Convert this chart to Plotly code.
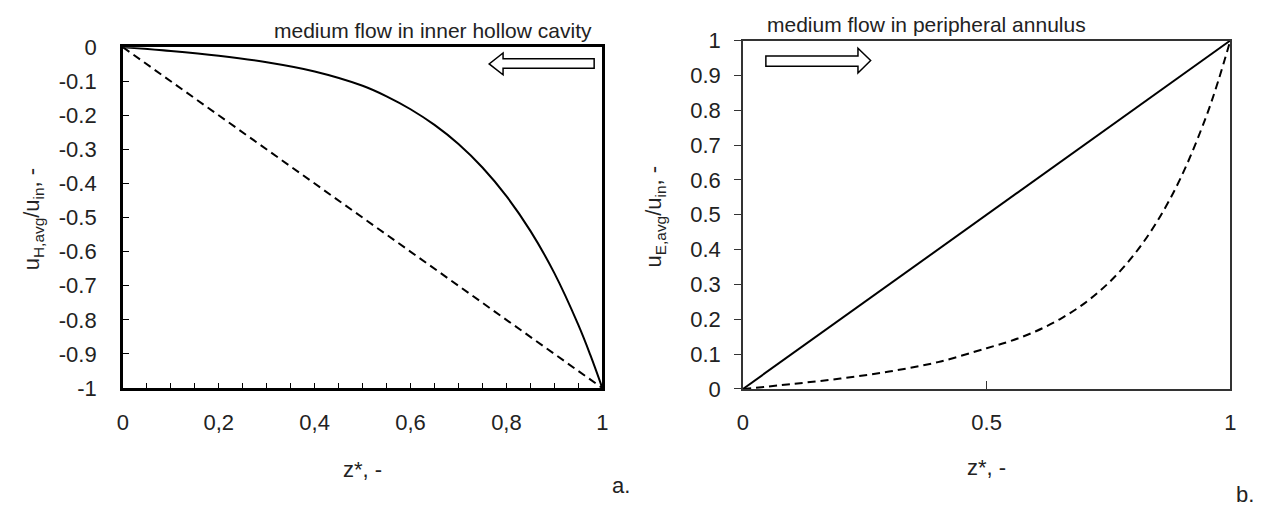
import plotly.graph_objects as go

# ---- data ----
z_a_solid = [0, 0.1, 0.2, 0.3, 0.4, 0.5, 0.55, 0.6, 0.65, 0.7, 0.75, 0.8, 0.85, 0.9, 0.95, 0.975, 1.0]
u_a_solid = [0, -0.011, -0.025, -0.044, -0.071, -0.113, -0.144, -0.182, -0.228, -0.284, -0.353,
             -0.437, -0.539, -0.663, -0.815, -0.903, -1.0]
z_a_dash = [0, 1]
u_a_dash = [0, -1]

z_b_solid = [0, 1]
u_b_solid = [0, 1]
z_b_dash = [0, 0.1, 0.2, 0.3, 0.4, 0.5, 0.55, 0.6, 0.65, 0.7, 0.75, 0.8, 0.85, 0.9, 0.95, 0.975, 1.0]
u_b_dash = [0, 0.014, 0.03, 0.05, 0.077, 0.117, 0.138, 0.165, 0.2, 0.245, 0.304, 0.381, 0.481,
            0.611, 0.78, 0.883, 1.0]

a_xticks = [0, 0.2, 0.4, 0.6, 0.8, 1]
a_xtext = ["0", "0,2", "0,4", "0,6", "0,8", "1"]
a_yticks = [0, -0.1, -0.2, -0.3, -0.4, -0.5, -0.6, -0.7, -0.8, -0.9, -1]
a_ytext = ["0", "-0.1", "-0.2", "-0.3", "-0.4", "-0.5", "-0.6", "-0.7", "-0.8", "-0.9", "-1"]
b_xticks = [0, 0.5, 1]
b_xtext = ["0", "0.5", "1"]
b_yticks = [0, 0.1, 0.2, 0.3, 0.4, 0.5, 0.6, 0.7, 0.8, 0.9, 1]
b_ytext = ["0", "0.1", "0.2", "0.3", "0.4", "0.5", "0.6", "0.7", "0.8", "0.9", "1"]

W, H = 1268, 520
FONT = "Arial, Liberation Sans, sans-serif"
TXT = "#222222"

def px(x):
    return x / W

def py(y):
    return 1 - y / H

fig = go.Figure()
line_solid = dict(color="black", width=2)
line_dash = dict(color="black", width=2, dash="8px,5px")

fig.add_trace(go.Scatter(x=z_a_solid, y=u_a_solid, mode="lines", line=line_solid,
                         line_shape="spline", xaxis="x", yaxis="y", showlegend=False))
fig.add_trace(go.Scatter(x=z_a_dash, y=u_a_dash, mode="lines", line=line_dash,
                         xaxis="x", yaxis="y", showlegend=False))
fig.add_trace(go.Scatter(x=z_b_solid, y=u_b_solid, mode="lines", line=line_solid,
                         xaxis="x2", yaxis="y2", showlegend=False))
fig.add_trace(go.Scatter(x=z_b_dash, y=u_b_dash, mode="lines", line=line_dash,
                         line_shape="spline", xaxis="x2", yaxis="y2", showlegend=False))

tickfont = dict(family=FONT, size=22, color=TXT)

fig.update_layout(
    width=W, height=H,
    margin=dict(l=0, r=0, t=0, b=0),
    paper_bgcolor="white", plot_bgcolor="white",
    font=dict(family=FONT, size=22, color=TXT),
    xaxis=dict(domain=[px(118), px(602)], range=[0, 1], anchor="y",
               showline=True, mirror=True, linecolor="black", linewidth=2.5,
               showgrid=False, zeroline=False,
               tickmode="array", tickvals=a_xticks, ticktext=a_xtext,
               ticks="inside", ticklen=5, tickwidth=1.2, tickcolor="black",
               minor=dict(dtick=0.05, ticks="inside", ticklen=5, tickwidth=1.2, tickcolor="black"),
               tickfont=tickfont, ticklabelstandoff=13),
    yaxis=dict(domain=[py(395), py(37)], range=[-1, 0], anchor="x",
               showline=True, mirror=True, linecolor="black", linewidth=2.5,
               showgrid=False, zeroline=False,
               tickmode="array", tickvals=a_yticks, ticktext=a_ytext,
               ticks="inside", ticklen=6, tickwidth=1.2, tickcolor="black",
               tickfont=tickfont, ticklabelstandoff=19),
    xaxis2=dict(domain=[px(744), px(1236)], range=[0, 1], anchor="y2",
                showline=True, mirror=True, linecolor="#333333", linewidth=1.5,
                showgrid=False, zeroline=False,
                tickmode="array", tickvals=b_xticks, ticktext=b_xtext,
                ticks="inside", ticklen=8, tickwidth=1, tickcolor="#333333",
                tickfont=tickfont, ticklabelstandoff=13),
    yaxis2=dict(domain=[py(396), py(30)], range=[0, 1], anchor="x2",
                showline=True, mirror=True, linecolor="#333333", linewidth=1.5,
                showgrid=False, zeroline=False,
                tickmode="array", tickvals=b_yticks, ticktext=b_ytext,
                ticks="outside", ticklen=7, tickwidth=1, tickcolor="#333333",
                tickfont=tickfont, ticklabelstandoff=9),
)

# hollow block arrows
fig.add_shape(type="path", xref="x", yref="y",
              path="M 0.983,-0.0335 L 0.793,-0.0335 L 0.793,-0.0168 L 0.764,-0.049 "
                   "L 0.793,-0.081 L 0.793,-0.0615 L 0.983,-0.0615 Z",
              fillcolor="white", line=dict(color="black", width=1.5))
fig.add_shape(type="path", xref="x2", yref="y2",
              path="M 0.047,0.956 L 0.236,0.956 L 0.236,0.978 L 0.262,0.943 "
                   "L 0.236,0.907 L 0.236,0.926 L 0.047,0.926 Z",
              fillcolor="white", line=dict(color="black", width=1.5))

ann = [
    dict(text="medium flow in inner hollow cavity", x=px(594), y=py(19), xanchor="right", yanchor="middle", size=21),
    dict(text="medium flow in peripheral annulus", x=px(766), y=py(13), xanchor="left", yanchor="middle", size=21),
    dict(text="z*, -", x=px(360), y=py(481), xanchor="center", yanchor="middle", size=22),
    dict(text="z*, -", x=px(990), y=py(479), xanchor="center", yanchor="middle", size=22),
    dict(text="a.", x=px(621), y=py(497), xanchor="center", yanchor="middle", size=22),
    dict(text="b.", x=px(1251), y=py(507), xanchor="center", yanchor="middle", size=22),
]
for a in ann:
    fig.add_annotation(text=a["text"], xref="paper", yref="paper", x=a["x"], y=a["y"],
                       xanchor=a["xanchor"], yanchor=a["yanchor"], showarrow=False,
                       font=dict(family=FONT, size=a["size"], color=TXT))

fig.add_annotation(text="u<sub>H,avg</sub>/u<sub>in</sub>, -", xref="paper", yref="paper",
                   x=px(27), y=py(218), textangle=-90, showarrow=False,
                   xanchor="center", yanchor="middle", font=dict(family=FONT, size=22, color=TXT))
fig.add_annotation(text="u<sub>E,avg</sub>/u<sub>in</sub>, -", xref="paper", yref="paper",
                   x=px(655), y=py(215), textangle=-90, showarrow=False,
                   xanchor="center", yanchor="middle", font=dict(family=FONT, size=22, color=TXT))

fig.write_html("out.html")
